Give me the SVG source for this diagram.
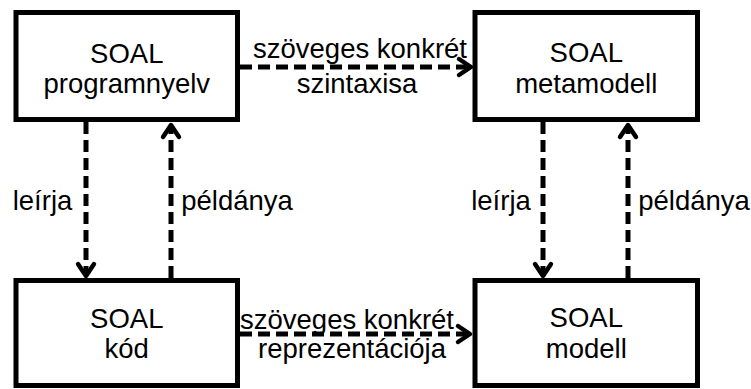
<svg xmlns="http://www.w3.org/2000/svg" width="751" height="389" viewBox="0 0 751 389">
  <style>
    .box { fill: #fff; stroke: #000; stroke-width: 5; }
    .lbl { font-family: "Liberation Sans", Arial, sans-serif; font-size: 27.5px; fill: #000; text-anchor: middle; }
    .edge { fill: none; stroke: #000; stroke-width: 5; stroke-dasharray: 12 6; }
    .head { fill: none; stroke: #000; stroke-width: 4.5; stroke-linecap: round; stroke-linejoin: round; }
  </style>
  <rect width="751" height="389" fill="#fff"/>

  <!-- connectors -->
  <g id="connectors">
    <!-- programnyelv -> metamodell -->
    <line class="edge" x1="240" y1="67" x2="470" y2="67"/>
    <polyline class="head" points="459,59 471,67 459,75"/>
    <text class="lbl" x="360" y="58">szöveges konkrét</text>
    <text class="lbl" x="357" y="93">szintaxisa</text>

    <!-- kód -> modell -->
    <line class="edge" x1="240" y1="334" x2="468" y2="334"/>
    <polyline class="head" points="458,326 470,334 458,342"/>
    <text class="lbl" x="347" y="329">szöveges konkrét</text>
    <text class="lbl" x="352" y="358">reprezentációja</text>

    <!-- programnyelv leírja kód -->
    <line class="edge" x1="86" y1="122" x2="86" y2="275"/>
    <polyline class="head" points="78,264 86,276 94,264"/>
    <text class="lbl" x="42.5" y="210">leírja</text>

    <!-- kód példánya programnyelv -->
    <line class="edge" x1="171" y1="278" x2="171" y2="126"/>
    <polyline class="head" points="163,137 171,125 179,137"/>
    <text class="lbl" x="237" y="210">példánya</text>

    <!-- metamodell leírja modell -->
    <line class="edge" x1="543" y1="122" x2="543" y2="275"/>
    <polyline class="head" points="535,264 543,276 551,264"/>
    <text class="lbl" x="501" y="210">leírja</text>

    <!-- modell példánya metamodell -->
    <line class="edge" x1="628" y1="278" x2="628" y2="126"/>
    <polyline class="head" points="620,137 628,125 636,137"/>
    <text class="lbl" x="694" y="210">példánya</text>
  </g>

  <g id="node-programnyelv">
    <rect class="box" x="16" y="12.5" width="221.5" height="107"/>
    <text class="lbl" x="126.75" y="63">SOAL</text>
    <text class="lbl" x="126.75" y="93">programnyelv</text>
  </g>

  <g id="node-metamodell">
    <rect class="box" x="475" y="12.5" width="222.5" height="107"/>
    <text class="lbl" x="586.25" y="62">SOAL</text>
    <text class="lbl" x="586.25" y="93">metamodell</text>
  </g>

  <g id="node-kod">
    <rect class="box" x="16" y="280.5" width="221.5" height="105"/>
    <text class="lbl" x="126.75" y="328">SOAL</text>
    <text class="lbl" x="126.75" y="358">kód</text>
  </g>

  <g id="node-modell">
    <rect class="box" x="475" y="280.5" width="222.5" height="105"/>
    <text class="lbl" x="586.25" y="327">SOAL</text>
    <text class="lbl" x="586.25" y="358">modell</text>
  </g>
</svg>
